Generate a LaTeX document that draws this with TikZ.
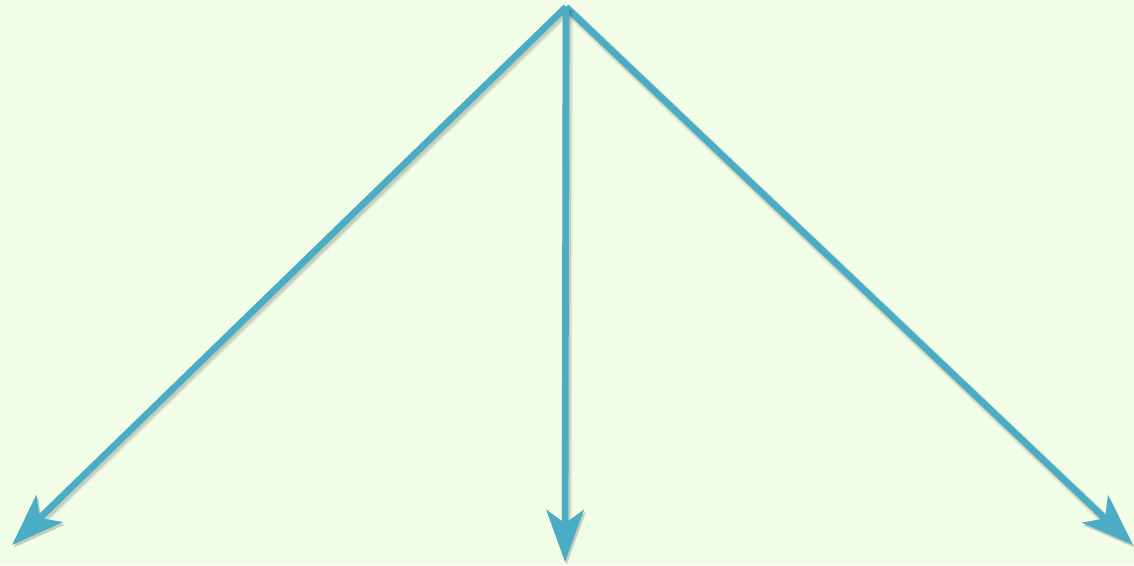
\documentclass[tikz,border=0pt]{standalone}
\usetikzlibrary{arrows.meta}
\definecolor{bgc}{HTML}{F2FDE8}
\definecolor{linec}{HTML}{4BACC6}
\begin{document}
\begin{tikzpicture}[x=0.75pt,y=-0.75pt,
  arr/.style={draw=linec, line width=5pt, line join=miter,
    -{Stealth[length=39pt,width=28pt,inset=10pt]},
    preaction={draw=black, opacity=0.07, line width=8pt,
      transform canvas={shift={(1.2pt,-2pt)}}},
    preaction={draw=black, opacity=0.12, line width=5.5pt,
      transform canvas={shift={(1.2pt,-2pt)}}}}]
\fill[bgc] (0,0) rectangle (1134,565);
\useasboundingbox (0,0) rectangle (1134,565);
\coordinate (top) at (566,7);
\coordinate (l) at (12,545);
\coordinate (m) at (565,562);
\coordinate (r) at (1133,545);
\draw[arr] (top) -- (l);
\draw[arr] (top) -- (r);
\draw[arr] (top) -- (m);
\end{tikzpicture}
\end{document}
